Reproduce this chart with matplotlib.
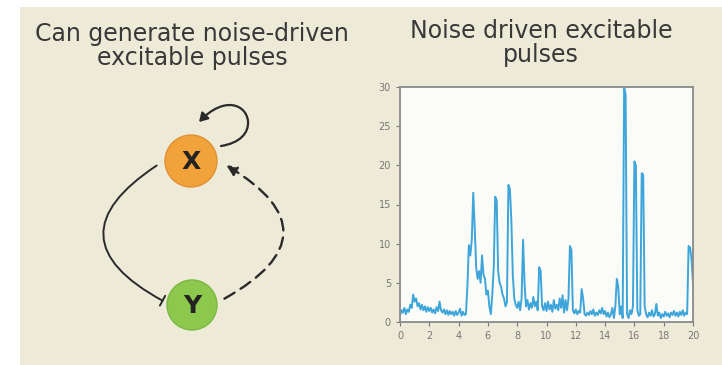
import numpy as np
import matplotlib
matplotlib.use("Agg")
import matplotlib.pyplot as plt
from matplotlib.patches import Rectangle, Circle, FancyArrowPatch
from matplotlib.path import Path

plt.rcParams['font.family'] = ['DejaVu Sans']

left_title = "Can generate noise-driven\nexcitable pulses"
right_title = "Noise driven excitable\npulses"
node_labels = ["X", "Y"]

x_ticks = [0, 2, 4, 6, 8, 10, 12, 14, 16, 18, 20]
y_ticks = [0, 5, 10, 15, 20, 25, 30]

signal = [
    0.8, 1.5, 1.2, 1.8, 1.0, 1.6, 1.3, 2.2, 1.8, 3.5,
    2.6, 3.0, 2.0, 2.4, 1.6, 2.2, 1.5, 2.0, 1.3, 1.9,
    1.4, 1.8, 1.2, 1.6, 1.1, 1.9, 1.4, 2.6, 1.5, 1.2,
    1.6, 1.0, 1.5, 0.9, 1.4, 1.0, 1.3, 0.8, 1.4, 0.9,
    1.2, 1.7, 0.8, 1.3, 0.9, 1.0, 4.5, 9.8, 8.5, 10.5,
    16.5, 12.0, 7.0, 5.5, 6.5, 5.0, 8.5, 6.0, 5.5, 3.5,
    4.0, 2.0, 1.0, 3.5, 7.0, 16.0, 15.5, 6.5, 5.0, 4.5,
    3.5, 3.0, 2.0, 2.5, 17.5, 17.0, 13.0, 6.0, 3.0, 2.2,
    1.8, 2.6, 1.5, 3.0, 10.5, 5.0, 2.0, 2.8, 1.6, 2.4,
    1.8, 3.2, 2.0, 2.6, 1.5, 7.0, 6.5, 2.0, 1.5, 2.4,
    1.4, 2.6, 1.6, 2.2, 1.3, 2.8, 1.7, 2.2, 1.5, 3.0,
    1.8, 3.4, 1.2, 2.8, 1.5, 3.0, 9.7, 9.2, 1.5, 1.1,
    1.6, 1.0, 1.4, 1.2, 4.2, 3.0, 1.0, 0.8, 1.2, 0.9,
    1.4, 1.0, 1.6, 0.8, 1.2, 0.9, 1.5, 1.1, 1.8, 1.0,
    1.4, 0.7, 1.2, 0.6, 1.0, 1.8, 0.5, 2.0, 5.5, 4.5,
    1.0, 2.0, 0.5, 30.0, 29.0, 1.0, 0.5, 1.5, 1.0, 2.0,
    20.5, 20.0, 1.5, 0.8, 1.0, 19.0, 18.8, 2.0, 1.0, 0.6,
    1.2, 0.8, 1.5, 0.7, 1.0, 2.3, 0.8, 1.2, 0.5, 1.0,
    0.7, 1.3, 0.8, 1.1, 0.6, 1.2, 0.9, 1.4, 0.8, 1.2,
    0.7, 1.3, 0.9, 1.5, 0.8, 1.2, 1.0, 9.7, 9.5, 8.0,
    5.0,
]
time = np.linspace(0, 20, len(signal))

W, H = 722, 365
fig = plt.figure(figsize=(W / 100, H / 100), dpi=100, facecolor="white")

# background / diagram axes in pixel coordinates
bg = fig.add_axes([0, 0, 1, 1])
bg.set_xlim(0, W)
bg.set_ylim(H, 0)
bg.axis("off")
bg.add_patch(Rectangle((20, 7), W - 20, H - 7, facecolor="#EEEAD8", edgecolor="none"))

bg.text(192, 22, left_title, ha="center", va="top", fontsize=17,
        color="#383838", linespacing=1.0)
bg.text(541, 19, right_title, ha="center", va="top", fontsize=17,
        color="#383838", linespacing=1.0)

# nodes
X_c, Y_c = (191, 161), (192, 305)
bg.add_patch(Circle(X_c, 26, facecolor="#F2A23A", edgecolor="#E09030", lw=1, zorder=3))
bg.add_patch(Circle(Y_c, 25, facecolor="#8CC84B", edgecolor="#7AB840", lw=1, zorder=3))
bg.text(X_c[0], X_c[1] + 1, node_labels[0], ha="center", va="center",
        fontsize=18, fontweight="bold", color="#222222", zorder=4)
bg.text(Y_c[0], Y_c[1] + 1, node_labels[1], ha="center", va="center",
        fontsize=18, fontweight="bold", color="#222222", zorder=4)

ec = "#2A2A2A"
# self loop on X
loop_path = Path(
    [(221, 146), (240, 143), (249, 133), (248, 121),
     (246, 104), (224, 96), (199, 122)],
    [Path.MOVETO, Path.CURVE4, Path.CURVE4, Path.CURVE4,
     Path.CURVE4, Path.CURVE4, Path.CURVE4])
loop = FancyArrowPatch(path=loop_path,
                       arrowstyle="-|>,head_length=5,head_width=3",
                       color=ec, lw=1.6, zorder=2)
bg.add_patch(loop)
# inhibition X -> Y (solid arc with bar)
inh = FancyArrowPatch((159, 164), (165, 302),
                      connectionstyle="arc3,rad=0.85",
                      arrowstyle="-[,widthB=4,lengthB=0",
                      color=ec, lw=1.4, zorder=2)
bg.add_patch(inh)
# activation Y -> X (dashed arc)
act = FancyArrowPatch((222, 300), (224, 164),
                      connectionstyle="arc3,rad=0.88",
                      arrowstyle="-|>,head_length=6,head_width=3",
                      color=ec, lw=1.7, linestyle=(0, (5, 3)), zorder=2)
bg.add_patch(act)

# time series
ax = fig.add_axes([400 / W, 1 - 322 / H, 293 / W, 235 / H])
ax.set_facecolor("#FBFBF8")
ax.plot(time, signal, color="#3DA5DA", lw=1.4)
ax.set_xlim(0, 20)
ax.set_ylim(0, 30)
ax.set_xticks(x_ticks)
ax.set_yticks(y_ticks)
ax.tick_params(labelsize=7, colors="#777777", length=3, width=0.8)
for s in ax.spines.values():
    s.set_color("#8A8A8A")
    s.set_linewidth(1.3)

fig.savefig("out.png", dpi=100, facecolor="white")
